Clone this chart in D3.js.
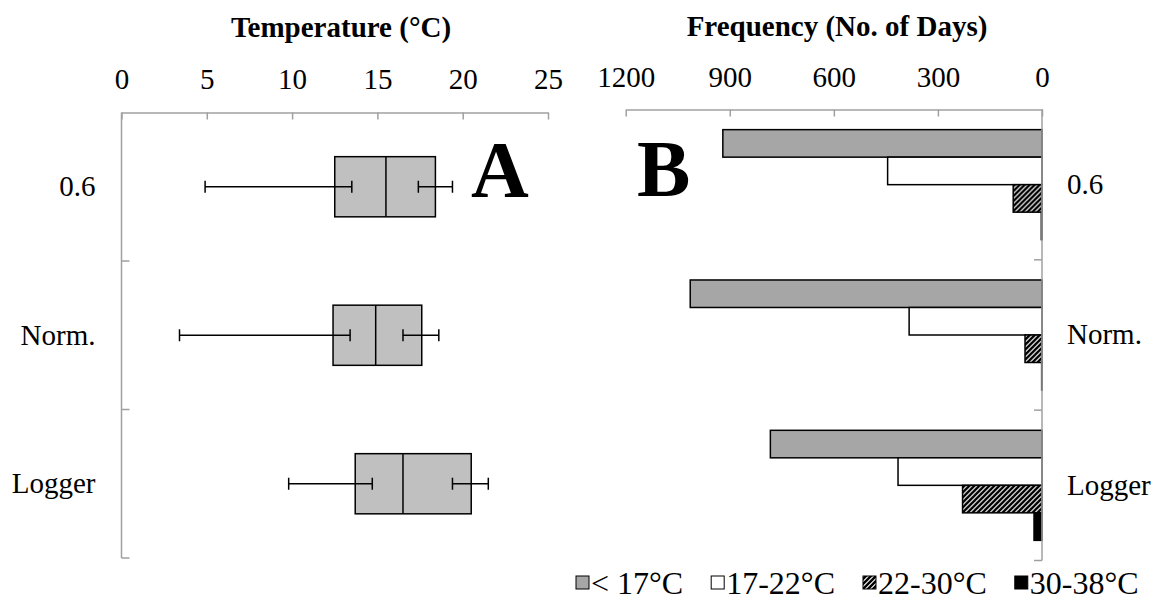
<!DOCTYPE html>
<html>
<head>
<meta charset="utf-8">
<script src="https://cdn.jsdelivr.net/npm/d3@7"></script>
<style>
  html, body { margin: 0; padding: 0; background: #fff; }
  svg { display: block; font-family: "Liberation Serif", "Times New Roman", serif; }
</style>
</head>
<body>
<svg id="chart" width="1156" height="601"></svg>
<script>
// ---- Data ----
const categories = ["0.6", "Norm.", "Logger"];

// Panel A: temperature distribution (°C)
const tempMin        = [4.9, 3.4, 9.8];
const tempLowInner   = [13.5, 13.4, 14.7];
const tempQ1         = [12.5, 12.4, 13.7];
const tempMedian     = [15.5, 14.9, 16.5];
const tempQ3         = [18.4, 17.6, 20.5];
const tempHighInner  = [17.4, 16.5, 19.4];
const tempMax        = [19.4, 18.6, 21.5];
const tempTicks      = [0, 5, 10, 15, 20, 25];

// Panel B: number of days in each temperature range
const rangeNames  = ["< 17°C", "17-22°C", "22-30°C", "30-38°C"];
const daysLt17    = [920, 1014, 783];
const days17to22  = [445, 383, 415];
const days22to30  = [83, 49, 229];
const days30to38  = [2, 1, 23];
const dayTicks    = [1200, 900, 600, 300, 0];

// ---- Setup ----
const svg = d3.select("#chart");
const AXIS = "#a0a0a0";
const FONT = 29;

const defs = svg.append("defs");
const hatch = defs.append("pattern")
  .attr("id", "hatch")
  .attr("patternUnits", "userSpaceOnUse")
  .attr("width", 5).attr("height", 5);
hatch.append("rect").attr("width", 5).attr("height", 5).attr("fill", "#fff");
hatch.append("path")
  .attr("d", "M0,5L5,0M-1,1L1,-1M4,6L6,4")
  .attr("stroke", "#000").attr("stroke-width", 2.4);

const rangeFill = ["#a6a6a6", "#ffffff", "url(#hatch)", "#000000"];

function styleAxis(g) {
  g.select(".domain").attr("stroke", AXIS).attr("stroke-width", 1.5);
  g.selectAll(".tick line").attr("stroke", AXIS).attr("stroke-width", 1.5);
  g.selectAll(".tick text").attr("fill", "#000")
    .style("font-size", FONT + "px").style("font-family", "Liberation Serif");
}

// ---- Panel A: box plots ----
const xA = d3.scaleLinear().domain([0, 25]).range([121.5, 548]);
const yA = d3.scaleBand().domain(categories).range([112.5, 558]).padding(0);
const boxH = yA.bandwidth() * 0.405;
const capH = 12;

const gA = svg.append("g");

// top value axis
gA.append("g")
  .attr("transform", `translate(0,${yA.range()[0]})`)
  .call(d3.axisTop(xA).tickValues(tempTicks).tickSizeInner(-7).tickSizeOuter(0).tickPadding(24))
  .call(styleAxis);

// left category axis (labels at band centres, ticks between categories)
gA.append("g")
  .attr("transform", `translate(${xA.range()[0]},0)`)
  .call(d3.axisLeft(yA).tickSize(0).tickPadding(26))
  .call(styleAxis)
  .call(g => g.select(".domain").remove());
gA.append("line")
  .attr("x1", xA.range()[0]).attr("x2", xA.range()[0])
  .attr("y1", yA.range()[0]).attr("y2", yA.range()[1])
  .attr("stroke", AXIS).attr("stroke-width", 1.5);
gA.selectAll(".sep")
  .data(categories.slice(1).map(c => yA(c)).concat([yA.range()[1]]))
  .join("line")
  .attr("x1", xA.range()[0]).attr("x2", xA.range()[0] + 8)
  .attr("y1", d => d).attr("y2", d => d)
  .attr("stroke", AXIS).attr("stroke-width", 1.5);

const boxes = gA.selectAll(".box").data(categories).join("g")
  .attr("transform", (d) => `translate(0,${yA(d) + yA.bandwidth() / 2})`);

boxes.append("rect")
  .attr("x", (d, i) => xA(tempQ1[i]))
  .attr("y", -boxH / 2)
  .attr("width", (d, i) => xA(tempQ3[i]) - xA(tempQ1[i]))
  .attr("height", boxH)
  .attr("fill", "#c0c0c0").attr("stroke", "#000").attr("stroke-width", 1.5);
boxes.append("line")
  .attr("x1", (d, i) => xA(tempMedian[i])).attr("x2", (d, i) => xA(tempMedian[i]))
  .attr("y1", -boxH / 2).attr("y2", boxH / 2)
  .attr("stroke", "#000").attr("stroke-width", 1.5);

function whisker(sel, fromArr, toArr) {
  sel.append("line")
    .attr("x1", (d, i) => xA(fromArr[i])).attr("x2", (d, i) => xA(toArr[i]))
    .attr("y1", 0).attr("y2", 0)
    .attr("stroke", "#000").attr("stroke-width", 1.5);
  [fromArr, toArr].forEach(arr => {
    sel.append("line")
      .attr("x1", (d, i) => xA(arr[i])).attr("x2", (d, i) => xA(arr[i]))
      .attr("y1", -capH / 2).attr("y2", capH / 2)
      .attr("stroke", "#000").attr("stroke-width", 1.5);
  });
}
whisker(boxes, tempMin, tempLowInner);
whisker(boxes, tempHighInner, tempMax);

svg.append("text")
  .attr("x", 341).attr("y", 37).attr("text-anchor", "middle")
  .style("font-size", "29px").style("font-weight", "bold")
  .text("Temperature (°C)");
svg.append("text")
  .attr("x", 471).attr("y", 197)
  .style("font-size", "80px").style("font-weight", "bold")
  .text("A");

// ---- Panel B: frequency bars ----
const xB = d3.scaleLinear().domain([0, 1200]).range([1042, 625.7]);
const yB = d3.scaleBand().domain(categories).range([109.5, 560.5]).padding(0);
const groupH = yB.bandwidth() * 0.732;
const ySeries = d3.scaleBand().domain(rangeNames)
  .range([(yB.bandwidth() - groupH) / 2, (yB.bandwidth() + groupH) / 2]).padding(0);

const seriesValues = [daysLt17, days17to22, days22to30, days30to38];
const gB = svg.append("g");

const groups = gB.selectAll(".grp").data(categories).join("g")
  .attr("transform", d => `translate(0,${yB(d)})`);

rangeNames.forEach((name, s) => {
  groups.append("rect")
    .attr("x", (d, i) => xB(seriesValues[s][i]))
    .attr("y", ySeries(name))
    .attr("width", (d, i) => xB(0) - xB(seriesValues[s][i]))
    .attr("height", ySeries.bandwidth())
    .attr("fill", rangeFill[s])
    .attr("stroke", "#000").attr("stroke-width", 1.5);
});

// top value axis
gB.append("g")
  .attr("transform", `translate(0,${yB.range()[0]})`)
  .call(d3.axisTop(xB).tickValues(dayTicks).tickFormat(d3.format("d"))
    .tickSizeInner(-7).tickSizeOuter(0).tickPadding(23))
  .call(styleAxis);

// right category axis
gB.append("g")
  .attr("transform", `translate(${xB(0)},0)`)
  .call(d3.axisRight(yB).tickSize(0).tickPadding(25))
  .call(styleAxis)
  .call(g => g.select(".domain").remove());
gB.append("line")
  .attr("x1", xB(0)).attr("x2", xB(0))
  .attr("y1", yB.range()[0]).attr("y2", yB.range()[1])
  .attr("stroke", AXIS).attr("stroke-width", 1.5);
gB.selectAll(".sep")
  .data(categories.slice(1).map(c => yB(c)).concat([yB.range()[1]]))
  .join("line")
  .attr("x1", xB(0) - 8).attr("x2", xB(0))
  .attr("y1", d => d).attr("y2", d => d)
  .attr("stroke", AXIS).attr("stroke-width", 1.5);

svg.append("text")
  .attr("x", 837).attr("y", 36).attr("text-anchor", "middle")
  .style("font-size", "29px").style("font-weight", "bold")
  .text("Frequency (No. of Days)");
svg.append("text")
  .attr("x", 637).attr("y", 196)
  .style("font-size", "80px").style("font-weight", "bold")
  .text("B");

// ---- Legend (items laid out left to right from measured text widths) ----
const legendY = 594, sq = 13, legendGap = 28;
const legend = svg.append("g");
let lx = 576;
rangeNames.forEach((name, i) => {
  const item = legend.append("g").attr("transform", `translate(${lx},${legendY})`);
  item.append("rect")
    .attr("x", 0).attr("y", -sq - 5).attr("width", sq).attr("height", sq)
    .attr("fill", rangeFill[i])
    .attr("stroke", "#000").attr("stroke-width", 1);
  const t = item.append("text")
    .attr("x", sq + 2).attr("y", 0)
    .style("font-size", "32px")
    .text(name);
  lx += sq + 2 + t.node().getComputedTextLength() + legendGap;
});
</script>
</body>
</html>
